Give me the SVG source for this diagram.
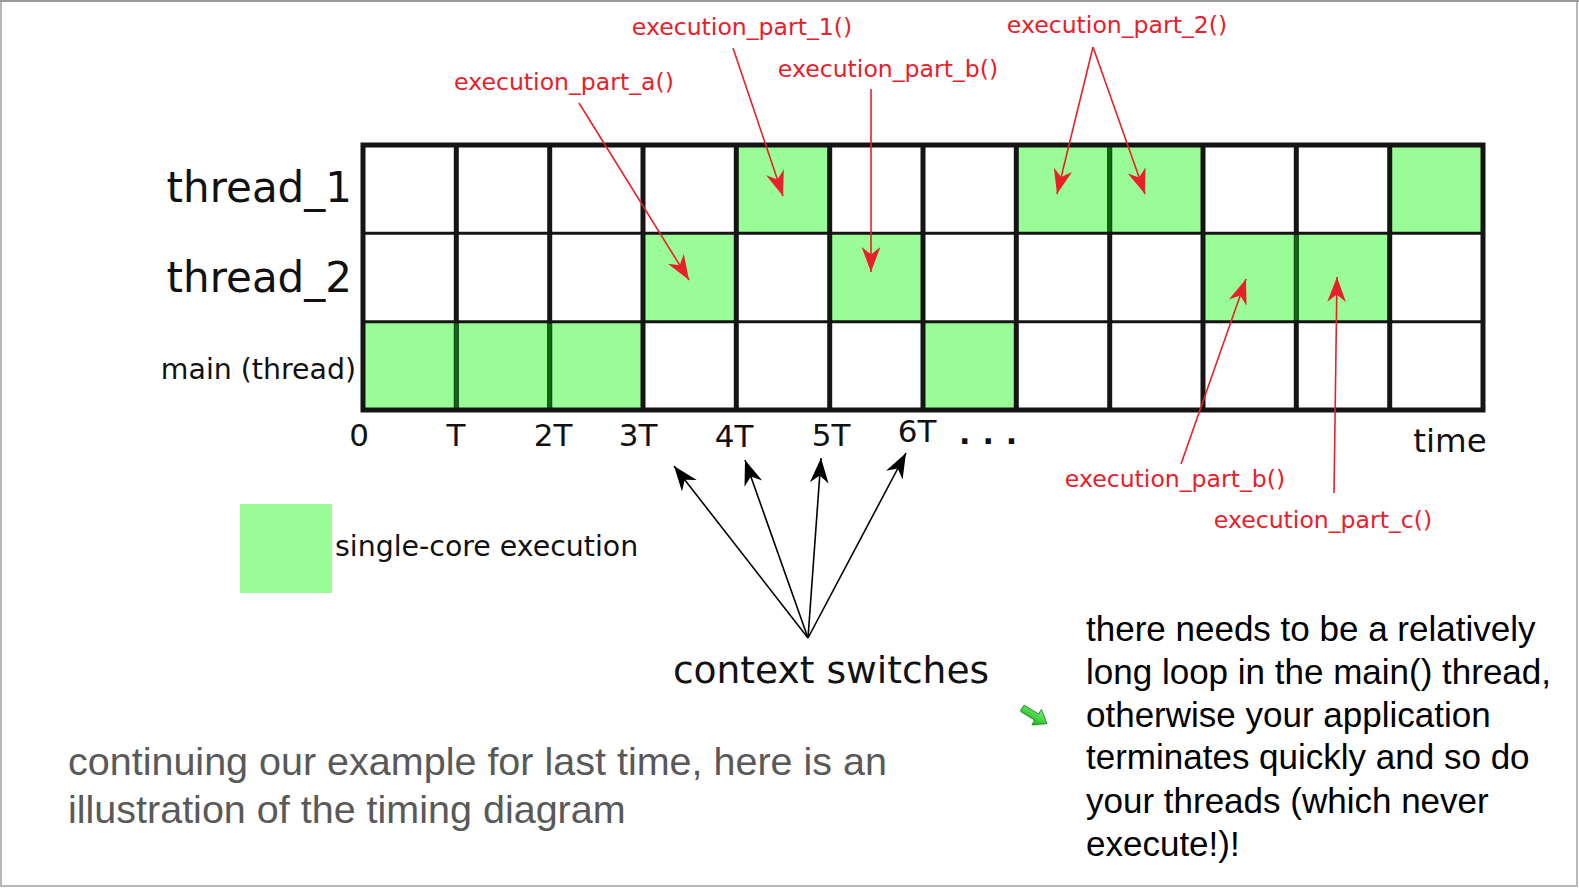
<svg xmlns="http://www.w3.org/2000/svg" width="1579" height="888" viewBox="0 0 1579 888">
<style>
.dj{font-family:"DejaVu Sans",sans-serif}
.lab{font-family:"DejaVu Sans",sans-serif;fill:#111}
.red{font-family:"DejaVu Sans",sans-serif;font-size:23.6px;fill:#e8202a;text-anchor:middle}
.tick{font-family:"DejaVu Sans",sans-serif;font-size:31px;fill:#111;text-anchor:middle}
.g{fill:#9afc96}
.vl{stroke:#151515;stroke-width:5}
.vg{stroke:#0b6a0b;stroke-width:4}
.hl{stroke:#151515;stroke-width:3}
.ra{stroke:#e8202a;stroke-width:1.6;fill:none;marker-end:url(#rh)}
.ba{stroke:#000;stroke-width:1.6;fill:none;marker-end:url(#bh)}
.body{font-family:"Liberation Sans",Arial,sans-serif}
</style>
<defs>
<marker id="rh" markerUnits="userSpaceOnUse" markerWidth="30" markerHeight="30" viewBox="-22 -10 24 20" refX="0" refY="0" orient="auto">
<path d="M0,0 L-20,-7.5 L-14,0 L-20,7.5 Z" fill="#e8202a"/>
</marker>
<marker id="bh" markerUnits="userSpaceOnUse" markerWidth="30" markerHeight="30" viewBox="-22 -10 24 20" refX="0" refY="0" orient="auto">
<path d="M0,0 L-20,-7.5 L-14,0 L-20,7.5 Z" fill="#000"/>
</marker>
<linearGradient id="ag" x1="0" y1="0" x2="0" y2="1">
<stop offset="0" stop-color="#7df27a"/>
<stop offset="1" stop-color="#15b515"/>
</linearGradient>
</defs>
<rect x="0" y="0" width="1579" height="888" fill="#fff"/>
<rect x="1" y="1" width="1576" height="885" fill="none" stroke="#b8b8b8" stroke-width="2"/>
<line x1="0" y1="1" x2="1579" y2="1" stroke="#9a9a9a" stroke-width="2"/>

<g id="grid">
<rect x="363" y="145" width="1120" height="265" fill="#fff"/>
<rect class="g" x="736.3" y="145" width="93.3" height="88.3"/>
<rect class="g" x="1016.3" y="145" width="93.3" height="88.3"/>
<rect class="g" x="1109.7" y="145" width="93.3" height="88.3"/>
<rect class="g" x="1389.7" y="145" width="93.3" height="88.3"/>
<rect class="g" x="643" y="233.3" width="93.3" height="88.3"/>
<rect class="g" x="829.7" y="233.3" width="93.3" height="88.3"/>
<rect class="g" x="1203" y="233.3" width="93.3" height="88.3"/>
<rect class="g" x="1296.3" y="233.3" width="93.3" height="88.3"/>
<rect class="g" x="363" y="321.7" width="93.3" height="88.3"/>
<rect class="g" x="456.3" y="321.7" width="93.3" height="88.3"/>
<rect class="g" x="549.7" y="321.7" width="93.3" height="88.3"/>
<rect class="g" x="923" y="321.7" width="93.3" height="88.3"/>
<line class="hl" x1="363" y1="233.3" x2="1483" y2="233.3"/>
<line class="hl" x1="363" y1="321.7" x2="1483" y2="321.7"/>
<g class="vl">
<line x1="456.3" y1="145" x2="456.3" y2="410"/>
<line x1="549.7" y1="145" x2="549.7" y2="410"/>
<line x1="643" y1="145" x2="643" y2="410"/>
<line x1="736.3" y1="145" x2="736.3" y2="410"/>
<line x1="829.7" y1="145" x2="829.7" y2="410"/>
<line x1="923" y1="145" x2="923" y2="410"/>
<line x1="1016.3" y1="145" x2="1016.3" y2="410"/>
<line x1="1109.7" y1="145" x2="1109.7" y2="410"/>
<line x1="1203" y1="145" x2="1203" y2="410"/>
<line x1="1296.3" y1="145" x2="1296.3" y2="410"/>
<line x1="1389.7" y1="145" x2="1389.7" y2="410"/>
</g>
<g class="vg">
<line x1="456.3" y1="323.5" x2="456.3" y2="408"/>
<line x1="549.7" y1="323.5" x2="549.7" y2="408"/>
<line x1="1109.7" y1="147" x2="1109.7" y2="231.8"/>
<line x1="1296.3" y1="235" x2="1296.3" y2="320"/>
</g>
<rect x="363" y="145" width="1120" height="265" fill="none" stroke="#151515" stroke-width="5"/>
</g>

<g id="row-labels">
<text class="lab" x="352" y="202" font-size="42" text-anchor="end">thread_1</text>
<text class="lab" x="352" y="292" font-size="42" text-anchor="end">thread_2</text>
<text class="lab" x="356" y="379" font-size="28.4" text-anchor="end">main (thread)</text>
</g>

<g id="ticks">
<text class="tick" x="359" y="446">0</text>
<text class="tick" x="456" y="446">T</text>
<text class="tick" x="553" y="446">2T</text>
<text class="tick" x="638" y="446">3T</text>
<text class="tick" x="734" y="447">4T</text>
<text class="tick" x="831" y="446">5T</text>
<text class="tick" x="917" y="442">6T</text>
<text class="dj" x="959" y="444" font-size="30" font-weight="bold" letter-spacing="12" fill="#111">...</text>
<text class="lab" x="1450" y="452" font-size="32.5" text-anchor="middle">time</text>
</g>

<g id="legend">
<rect x="240" y="504" width="92" height="89" fill="#9afc96"/>
<text class="lab" x="335" y="556" font-size="28.4" fill="#222">single-core execution</text>
</g>

<g id="red-labels">
<text class="red" x="742" y="35">execution_part_1()</text>
<text class="red" x="564" y="90">execution_part_a()</text>
<text class="red" x="888" y="77">execution_part_b()</text>
<text class="red" x="1117" y="33">execution_part_2()</text>
<text class="red" x="1175" y="487">execution_part_b()</text>
<text class="red" x="1323" y="528">execution_part_c()</text>
</g>

<g id="context-label">
<text class="lab" x="831" y="683" font-size="37.6" text-anchor="middle">context switches</text>
</g>

<g id="connectors">
<line class="ra" x1="579" y1="103" x2="689" y2="280"/>
<line class="ra" x1="733" y1="48" x2="783" y2="196"/>
<line class="ra" x1="871" y1="89" x2="871" y2="272"/>
<line class="ra" x1="1093" y1="47" x2="1057" y2="194"/>
<line class="ra" x1="1093" y1="47" x2="1145" y2="194"/>
<line class="ra" x1="1181" y1="464" x2="1246" y2="279"/>
<line class="ra" x1="1334" y1="493" x2="1337" y2="277"/>
<line class="ba" x1="808" y1="638" x2="674" y2="466"/>
<line class="ba" x1="808" y1="638" x2="745" y2="460"/>
<line class="ba" x1="808" y1="638" x2="821" y2="458"/>
<line class="ba" x1="808" y1="638" x2="906" y2="453"/>
</g>

<g id="bullet-arrow" transform="translate(1035,716) rotate(32)">
<polygon points="-15,-3.5 2,-3.5 2,-9 14,0 2,9 2,3.5 -15,3.5" fill="#888" opacity="0.35" transform="translate(1,1.5)"/>
<polygon points="-15,-3.5 2,-3.5 2,-9 14,0 2,9 2,3.5 -15,3.5" fill="url(#ag)" stroke="#118811" stroke-width="0.8"/>
</g>

<g id="caption-left" class="body" fill="#595959" font-size="39.5">
<text x="68" y="775">continuing our example for last time, here is an</text>
<text x="68" y="823">illustration of the timing diagram</text>
</g>

<g id="caption-right" class="body" fill="#000" font-size="35">
<text x="1086" y="641">there needs to be a relatively</text>
<text x="1086" y="684">long loop in the main() thread,</text>
<text x="1086" y="727">otherwise your application</text>
<text x="1086" y="769">terminates quickly and so do</text>
<text x="1086" y="813">your threads (which never</text>
<text x="1086" y="856">execute!)!</text>
</g>
</svg>
